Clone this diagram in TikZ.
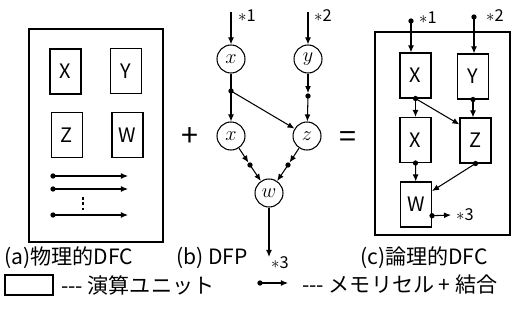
\documentclass[tikz,border=0pt]{standalone}
\usepackage{fontspec}
\setmainfont{Noto Sans CJK JP}
\usetikzlibrary{arrows.meta}
\begin{document}
\begin{tikzpicture}[
  x=0.03cm, y=-0.03cm,
  every node/.style={font=\fontsize{18}{20}\selectfont},
  unit/.style={draw, line width=0.9pt, minimum width=0.93cm, minimum height=1.35cm, inner sep=0pt, font=\fontsize{17}{19}\selectfont},
  cell/.style={circle, draw, line width=0.9pt, minimum size=0.84cm, inner sep=0pt, font=\fontsize{19}{21}\selectfont},
  frame/.style={draw, line width=0.9pt},
  link/.style={line width=0.9pt, -{Latex[length=6pt,width=5pt]}},
  wire/.style={line width=0.9pt},
  mem/.style={circle, fill, inner sep=0pt, minimum size=4.5pt},
  tag/.style={font=\fontsize{14}{16}\selectfont}
]
\useasboundingbox (0,0) rectangle (514,320);

% (a) physical DFC
\draw[frame] (29,29) rectangle (163,242);
\node[unit] (ax) at (65.5,71.5) {X};
\node[unit] (ay) at (126,71) {Y};
\node[unit] (az) at (67,135) {Z};
\node[unit] (aw) at (127.5,135) {W};
\foreach \y/\n in {176/1,189/2,215/3} {
  \node[mem] (as\n) at (53,\y) {};
  \coordinate (ae\n) at (128,\y);
  \draw[link] (as\n.center) -- (ae\n);
}
\draw[wire, dash pattern=on 2.5pt off 2pt] (83,197) -- (83,211);

\node (plus) at (190,137) {\fontsize{26}{26}\selectfont +};
\node (eq) at (348,140) {\fontsize{26}{26}\selectfont =};

% (b) DFP
\node[cell] (bx) at (231,59) {$x$};
\node[cell] (by) at (308,59) {$y$};
\node[cell] (bx2) at (231,136) {$x$};
\node[cell] (bz) at (307,136) {$z$};
\node[cell] (bw) at (269,193) {$w$};
\coordinate (bin1) at (231,12);
\coordinate (bin2) at (308,12);
\coordinate (bout) at (269,257);
\draw[link] (bin1) -- (bx);
\draw[link] (bin2) -- (by);
\draw[link] (bw) -- (bout);
\node[tag] (bl1) at (247,16) {$\ast$1};
\node[tag] (bl2) at (323,16) {$\ast$2};
\node[tag] (bl3) at (280,263) {$\ast$3};
\node[mem] (bj) at (231,91) {};
\draw[wire] (bx) -- (bj.center);
\draw[link] (bj.center) -- (bx2);
\draw[link] (bj.center) -- (bz);
\node[mem] (bm1) at (308,96) {};
\draw[link] (by) -- (bm1);
\draw[link] (bm1.center) -- (bz);
\node[mem] (bm2) at (250,165) {};
\draw[link] (bx2) -- (bm2);
\draw[link] (bm2.center) -- (bw);
\node[mem] (bm3) at (288,165) {};
\draw[link] (bz) -- (bm3);
\draw[link] (bm3.center) -- (bw);

% (c) logical DFC
\draw[frame] (375,32) rectangle (510,235);
\node[unit] (cx) at (415.5,75.5) {X};
\node[unit] (cy) at (473,76.5) {Y};
\node[unit] (cx2) at (415.5,140) {X};
\node[unit] (cz) at (475.5,140.5) {Z};
\node[unit] (cw) at (416,204.5) {W};
\node[mem] (ci1) at (411,21) {};
\node[mem] (ci2) at (474,17) {};
\node[tag] (cl1) at (428,18) {$\ast$1};
\node[tag] (cl2) at (495,16) {$\ast$2};
\draw[link] (ci1.center) -- (ci1 |- cx.north);
\draw[link] (ci2.center) -- (ci2 |- cy.north);
\node[mem] (cm1) at (cx.south) {};
\draw[link] (cm1.center) -- (cx2);
\draw[link] (cm1.center) -- (cz.135);
\node[mem] (cm2) at (cy.south) {};
\draw[link] (cm2.center) -- (cm2 |- cz.north);
\node[mem] (cm3) at (cx2.south) {};
\draw[link] (cm3.center) -- (cw);
\node[mem] (cm4) at (cz.south) {};
\draw[link] (cm4.center) -- (cw.40);
\node[mem] (cm5) at (cw.-35) {};
\coordinate (co) at (451,215);
\draw[link] (cm5.center) -- (co);
\node[tag] (cl3) at (465,215) {$\ast$3};

% captions
\node[anchor=west] (capa) at (0,258) {(a)物理的DFC};
\node[anchor=west] (capb) at (172,258) {(b) DFP};
\node[anchor=west] (capc) at (356,258) {(c)論理的DFC};

% legend
\node[draw, line width=0.9pt, minimum width=1.44cm, minimum height=0.6cm] (lu) at (29,285) {};
\node[anchor=west] (lut) at (57,285) {-{}-{}- 演算ユニット};
\node[mem] (lm) at (260,283) {};
\coordinate (le) at (288,283);
\draw[link] (lm.center) -- (le);
\node[anchor=west] (lmt) at (298,285) {-{}-{}- メモリセル + 結合};
\end{tikzpicture}
\end{document}
